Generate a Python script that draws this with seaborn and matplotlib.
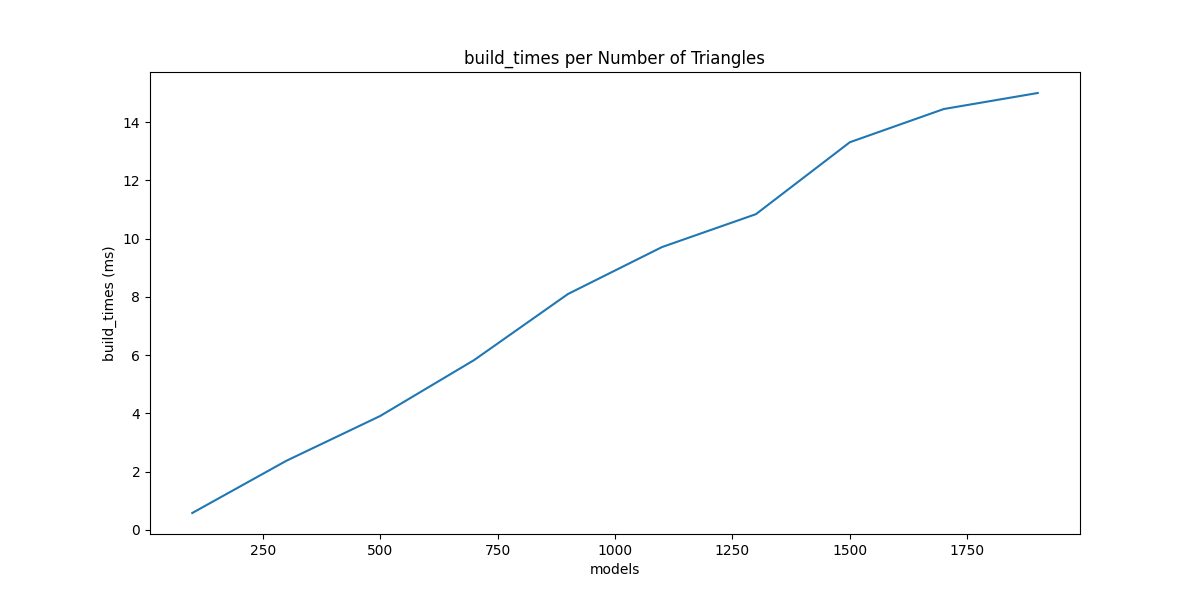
import matplotlib
matplotlib.use("Agg")
import matplotlib.pyplot as plt
import seaborn as sns
import pandas as pd

models = [100, 300, 500, 700, 900, 1100, 1300, 1500, 1700, 1900]
build_times = [0.58, 2.37, 3.91, 5.83, 8.1, 9.71, 10.84, 13.31, 14.45, 15.0]

df = pd.DataFrame({"models": models, "build_times": build_times})

fig, ax = plt.subplots(figsize=(12, 6), dpi=100)
sns.lineplot(data=df, x="models", y="build_times", ax=ax)
ax.set_title("build_times per Number of Triangles")
ax.set_xlabel("models")
ax.set_ylabel("build_times (ms)")
plt.savefig("out.png")
plt.close()
